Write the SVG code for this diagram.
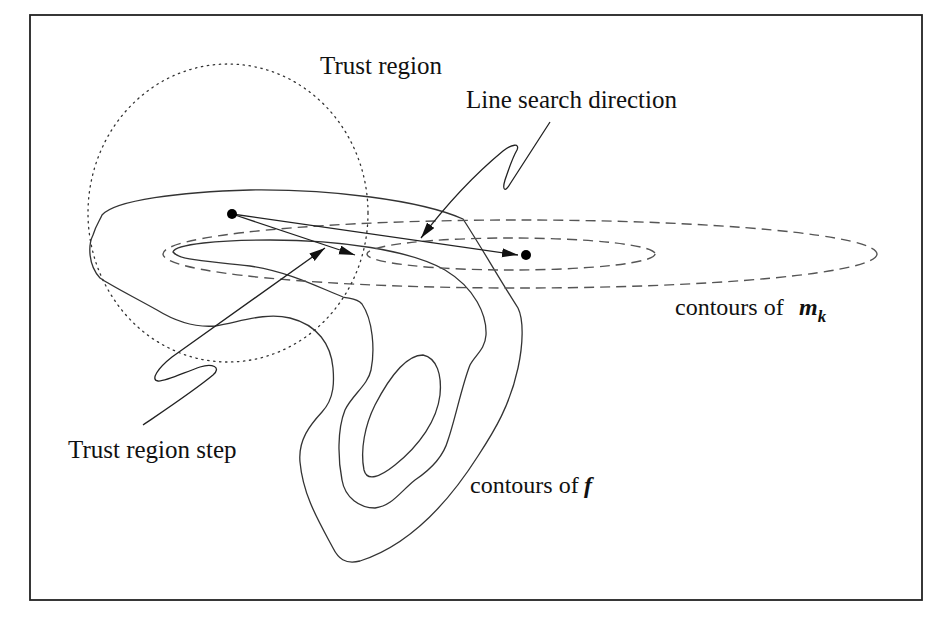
<svg xmlns="http://www.w3.org/2000/svg" width="946" height="619" viewBox="0 0 946 619">
<style>
.frame{fill:none;stroke:#222;stroke-width:1.8}
.cf{fill:none;stroke:#333;stroke-width:1.3}
.cm{fill:none;stroke:#555;stroke-width:1.4;stroke-dasharray:10 6}
.tr{fill:none;stroke:#333;stroke-width:1.3;stroke-dasharray:1.4 4.6;stroke-linecap:round}
.ar{fill:none;stroke:#222;stroke-width:1.3}
.lbl{font-family:"Liberation Serif","Times New Roman",serif;font-size:25px;fill:#111}
.lbl2{font-family:"Liberation Serif","Times New Roman",serif;font-size:24px;fill:#111}
.bi{font-weight:bold;font-style:italic}
</style>
<defs>
<marker id="ah" markerUnits="userSpaceOnUse" markerWidth="17" markerHeight="10" refX="16" refY="4.5" orient="auto">
<path d="M0,0 L16,4.5 L0,9 Z" fill="#111"/>
</marker>
</defs>
<rect class="frame" x="30" y="15" width="892" height="585"/>
<g id="contours-f">
<path class="cf" d="M102,215 C115,200 180,192 250,190 C330,189 420,200 463,219 C480,245 500,280 518,308 C524,320 523,345 518,368 C510,405 495,430 478,456 C450,500 410,545 360,561 C345,565 338,558 333,548 C318,520 303,495 300,462 C298,440 310,425 322,412 C335,398 334,380 333,368 C331,345 318,325 290,318 C265,312 240,322 215,326 C190,328 170,318 157,310 C130,295 110,285 100,278 C88,265 88,245 93,235 C96,225 100,220 102,215 Z"/>
<path class="cf" d="M173,252 C175,244 220,240 270,240 C340,240 410,250 445,270 C475,288 487,315 486,335 C485,350 475,355 470,365 C462,385 455,420 448,440 C443,458 430,470 415,480 C400,492 392,506 375,508 C360,508 345,498 342,480 C338,460 337,430 345,410 C352,395 368,385 371,370 C375,350 373,320 362,304 C357,298 350,299 343,297 C320,288 290,272 250,266 C210,261 180,261 173,252 Z"/>
<path class="cf" d="M423,355 C437,358 442,375 440,395 C437,420 420,445 395,465 C380,477 367,482 364,470 C360,450 365,425 375,405 C388,380 405,355 423,355 Z"/>
</g>
<g id="contours-mk">
<ellipse class="cm" cx="520" cy="254" rx="357" ry="34"/>
<ellipse class="cm" cx="511" cy="254" rx="144" ry="16"/>
</g>
<g id="trust-region">
<ellipse class="tr" cx="228" cy="213" rx="140" ry="149"/>
</g>
<g id="connectors">
<path class="ar" d="M232,214 L518,255" marker-end="url(#ah)"/>
<path class="ar" d="M232,214 L355,255" marker-end="url(#ah)"/>
<path class="ar" d="M143,425 C165,410 195,390 213,375 C222,367 212,363 200,367 C185,372 165,382 158,381 C150,380 158,368 172,357 L325,248" marker-end="url(#ah)"/>
<path class="ar" d="M550,122 L510,184 C505,193 502,190 505,180 C509,168 514,155 517,150 C520,143 512,144 503,151 C480,170 450,200 421,238" marker-end="url(#ah)"/>
</g>
<g id="points">
<circle id="xk" cx="232" cy="214" r="5" fill="#000"/>
<circle id="xls" cx="526" cy="255" r="5" fill="#000"/>
</g>
<g id="labels">
<text id="lbl-trust-region" class="lbl" x="320" y="74">Trust region</text>
<text id="lbl-line-search" class="lbl" x="466" y="108">Line search direction</text>
<text id="lbl-trust-step" class="lbl" x="68" y="458">Trust region step</text>
<text id="lbl-contours-mk" class="lbl2" x="675" y="315">contours of <tspan class="bi" x="799">m</tspan><tspan class="bi" font-size="17" dy="7">k</tspan></text>
<text id="lbl-contours-f" class="lbl2" x="470" y="493">contours of <tspan class="bi" x="584">f</tspan></text>
</g>
</svg>
